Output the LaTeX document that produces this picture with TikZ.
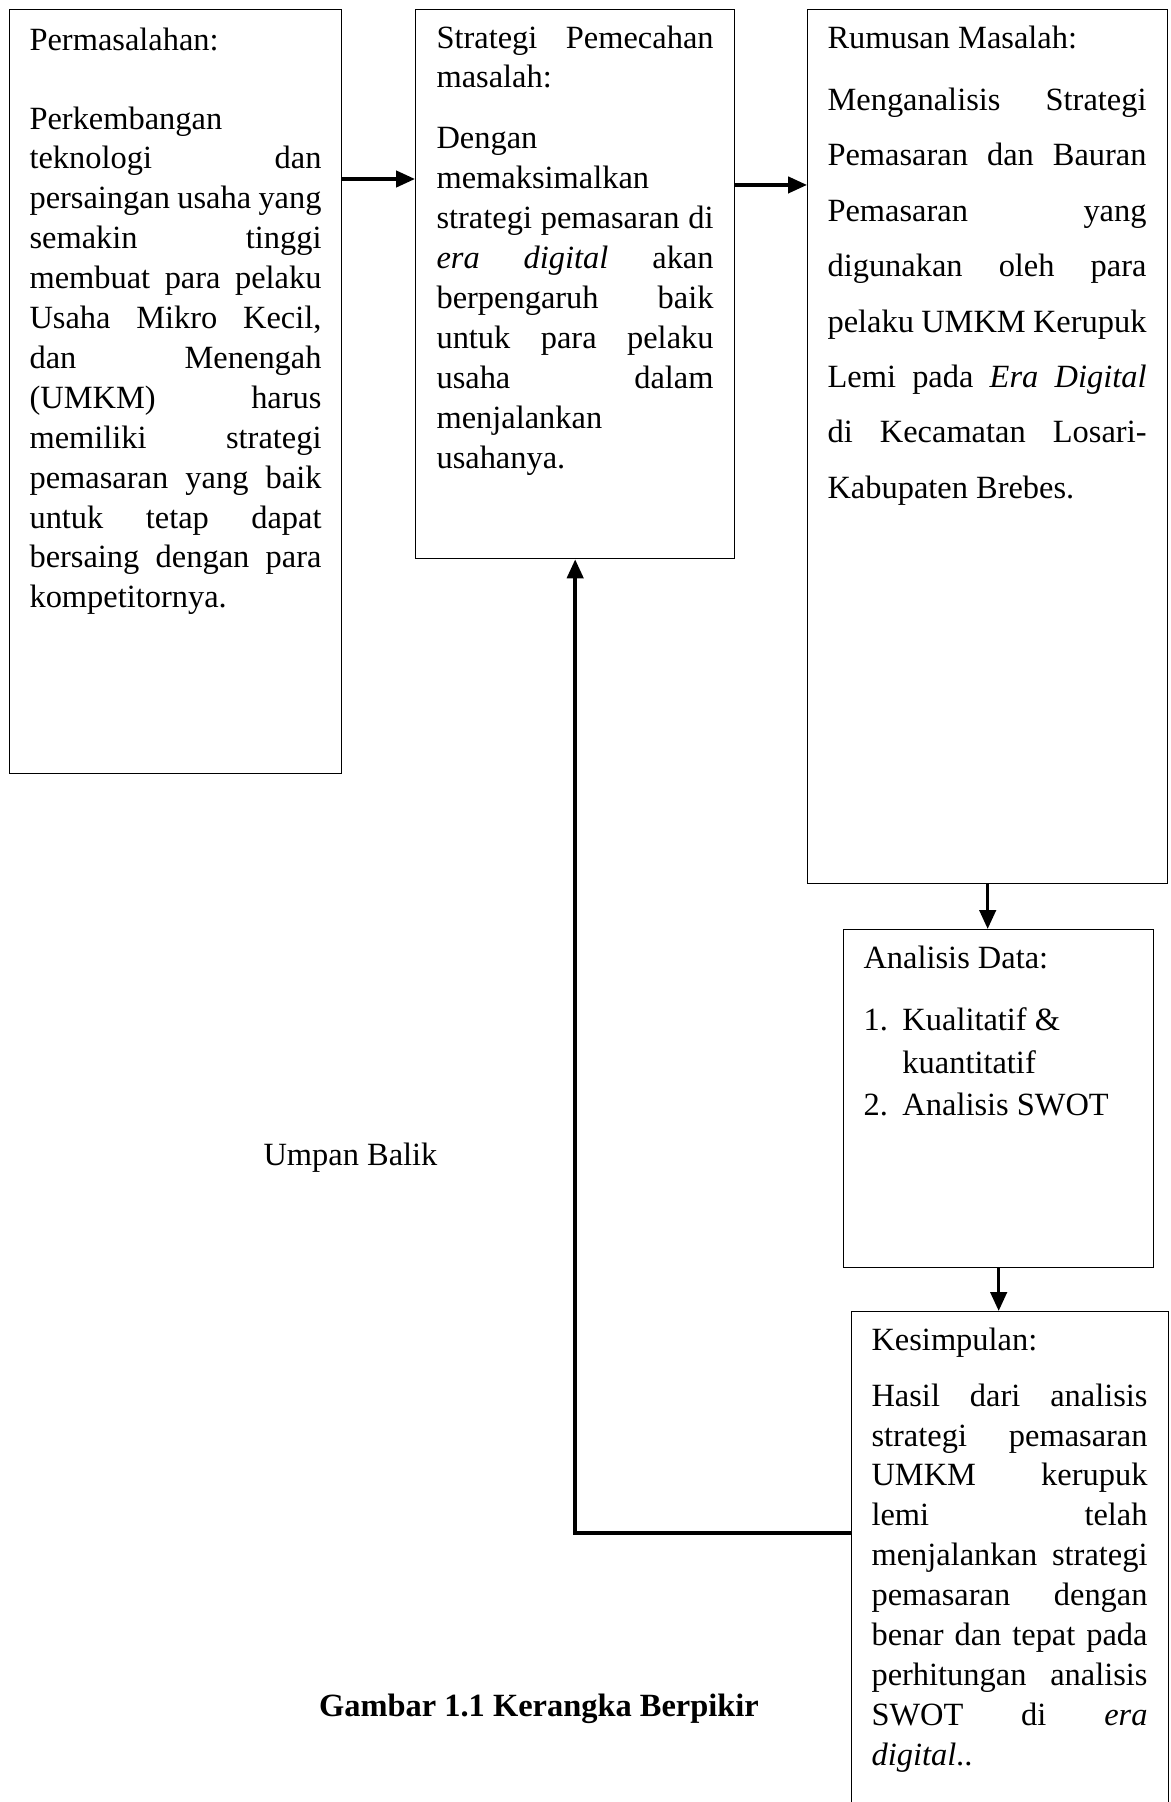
\documentclass[tikz,border=0pt]{standalone}
\usepackage{fontspec}
\setmainfont{Liberation Serif}
\usetikzlibrary{arrows.meta}
\newcommand{\jl}[1]{\makebox[\hsize][s]{\spaceskip=0pt\xspaceskip=0pt #1}\\}

\begin{document}
\begin{tikzpicture}[x=0.37pt,y=-0.37pt,
	kotak/.style={draw,line width=0.5pt,anchor=north west,inner sep=0pt},
	isi/.style={anchor=base west,inner sep=0pt,text width=#1,align=left,font=\fontsize{12}{14.76}\selectfont,
		execute at begin node={\spaceskip=0pt\xspaceskip=0pt}},
	panah/.style={line width=1.3pt,-{Triangle[length=7pt,width=6pt]}}]
	\useasboundingbox (0,0) rectangle (1170,1802);
%		boxes
		\node[kotak,minimum width=122.84pt,minimum height=282.68pt] (masalah) at (9,9) {};
		\node[kotak,minimum width=118.03pt,minimum height=203.13pt] (strategi) at (415,9) {};
		\node[kotak,minimum width=133.2pt,minimum height=323.38pt] (rumusan) at (807,9) {};
		\node[kotak,minimum width=114.7pt,minimum height=125.06pt] (analisis) at (843,929) {};
		\node[kotak,minimum width=117.29pt,minimum height=192.03pt] (simpulan) at (851,1311) {};
%		texts
		\node[isi=108.04pt] (tmasalah) at (29,50) {Permasalahan:\\[14.5pt]
			Perkembangan\\
			\jl{teknologi dan}
			\jl{persaingan usaha yang}
			\jl{semakin tinggi}
			\jl{membuat para pelaku}
			\jl{Usaha Mikro Kecil,}
			\jl{dan Menengah}
			\jl{(UMKM) harus}
			\jl{memiliki strategi}
			\jl{pemasaran yang baik}
			\jl{untuk tetap dapat}
			\jl{bersaing dengan para}
			kompetitornya.};
		\node[isi=102.5pt] (tstrategi) at (436,48) {\jl{Strategi Pemecahan}
			masalah:\\[7.8pt]
			Dengan\\
			memaksimalkan\\
			\jl{strategi pemasaran di}
			\jl{\textit{era} \textit{digital} akan}
			\jl{berpengaruh baik}
			\jl{untuk para pelaku}
			\jl{usaha dalam}
			menjalankan\\
			usahanya.};
		\node[isi=118.03pt,font=\fontsize{12}{20.5}\selectfont] (trumusan) at (827,48) {Rumusan Masalah:\\[2.6pt]
			\jl{Menganalisis Strategi}
			\jl{Pemasaran dan Bauran}
			\jl{Pemasaran yang}
			\jl{digunakan oleh para}
			\jl{pelaku UMKM Kerupuk}
			\jl{Lemi pada \textit{Era} \textit{Digital}}
			\jl{di Kecamatan Losari-}
			Kabupaten Brebes.};
		\node[isi=104pt,font=\fontsize{12}{15.7}\selectfont] (tanalisis) at (863,968) {Analisis Data:\\[7.5pt]
			\makebox[14.4pt][l]{1.}Kualitatif \&\\
			\hspace*{14.4pt}kuantitatif\\
			\makebox[14.4pt][l]{2.}Analisis SWOT};
		\node[isi=102.12pt] (tsimpulan) at (871,1350) {Kesimpulan:\\[6pt]
			\jl{Hasil dari analisis}
			\jl{strategi pemasaran}
			\jl{UMKM kerupuk}
			\jl{lemi telah}
			\jl{menjalankan strategi}
			\jl{pemasaran dengan}
			\jl{benar dan tepat pada}
			\jl{perhitungan analisis}
			\jl{SWOT di \textit{era}}
			\textit{digital}..};
		\node[anchor=base west,inner sep=0pt,font=\fontsize{12}{14.5}\selectfont] (umpan) at (263,1165) {Umpan Balik};
		\node[anchor=base,inner sep=0pt,font=\fontsize{12}{14.5}\selectfont\bfseries] (judul) at (539,1716) {Gambar 1.1 Kerangka Berpikir};
%		arrows
		\draw[panah] ([yshift=-62.9pt]masalah.north east) -- ([yshift=-62.9pt]masalah.north east -| strategi.west);
		\draw[panah] ([yshift=-65.1pt]strategi.north east) -- ([yshift=-65.1pt]strategi.north east -| rumusan.west);
		\draw[panah] (rumusan.south) -- (rumusan.south |- analisis.north);
		\draw[panah] (analisis.south) -- (analisis.south |- simpulan.north);
		\draw[panah] ([yshift=-82.1pt]simpulan.north west) -| (strategi.south);
\end{tikzpicture}
\end{document}
